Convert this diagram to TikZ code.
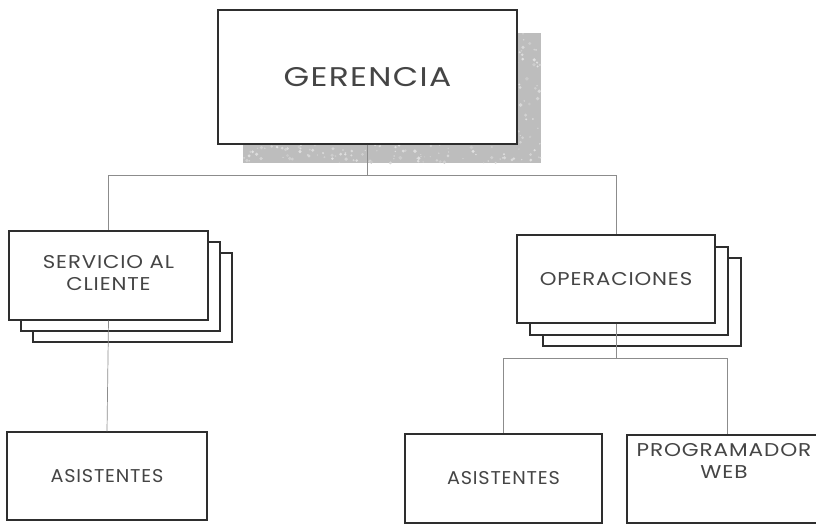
\documentclass[tikz,border=0pt]{standalone}
\usepackage{fontspec}
\setmainfont{Poppins}[LetterSpace=4]
\definecolor{ink}{HTML}{2E2E2E}
\definecolor{txt}{HTML}{454545}
\definecolor{conn}{HTML}{8C8C8C}
\definecolor{shadowgray}{HTML}{BDBDBD}
\definecolor{speck}{HTML}{E2E2E2}
\newcommand{\wide}[2]{\scalebox{#1}[1]{\begin{tabular}{@{}c@{}}#2\end{tabular}}}
\newcommand{\wideone}[2]{\scalebox{#1}[1]{#2}}
\tikzset{
  box/.style={draw=ink, line width=1.2pt, fill=white, align=center, text=txt, inner sep=0pt},
  smallbox/.style={box, font=\fontsize{18.5}{22}\selectfont},
  lbl/.style={align=center, text=txt, inner sep=0pt, font=\fontsize{18.5}{22}\selectfont},
  layer/.style={draw=ink, line width=1.2pt, fill=white},
  conn/.style={draw=conn, line width=0.7pt},
}
\begin{document}
\begin{tikzpicture}[x=1pt,y=-1pt]
\clip (0,0) rectangle (816,524);
\fill[white] (0,0) rectangle (816,524);
% textured shadow of GERENCIA
\fill[shadowgray] (243,33) rectangle (541,163);
\pgfmathsetseed{7}
\foreach \i in {1,...,700}{
  \pgfmathsetmacro{\px}{243+298*rnd}
  \pgfmathsetmacro{\py}{33+130*rnd}
  \pgfmathsetmacro{\pr}{0.6+1.4*rnd}
  \pgfmathsetmacro{\pl}{30+70*rnd}
  \fill[speck!\pl!shadowgray] (\px,\py) circle[radius=\pr];
}
\node[box, minimum width=299pt, minimum height=134pt, font=\fontsize{27}{32}\selectfont] (ger) at (367.5,77) {\wideone{1.22}{GERENCIA}};
% SERVICIO AL CLIENTE stack
\node[layer, minimum width=199pt, minimum height=89pt] (serv3) at (132.5,297.5) {};
\node[layer, minimum width=199pt, minimum height=89pt] (serv2) at (120.5,286.5) {};
\node[smallbox, minimum width=199pt, minimum height=89pt] (serv) at (108.5,275.5) {\wide{1.15}{SERVICIO AL\\CLIENTE}};
% OPERACIONES stack
\node[layer, minimum width=198pt, minimum height=88pt] (oper3) at (642,302) {};
\node[layer, minimum width=198pt, minimum height=88pt] (oper2) at (629,291) {};
\node[smallbox, minimum width=198pt, minimum height=88pt] (oper) at (616,279) {\wideone{1.15}{OPERACIONES}};
% bottom row
\node[smallbox, minimum width=200pt, minimum height=88pt] (asl) at (107,476) {\wideone{1.04}{ASISTENTES}};
\node[smallbox, minimum width=197pt, minimum height=89pt] (asr) at (503.5,478.5) {\wideone{1.04}{ASISTENTES}};
\node[box, minimum width=200pt, minimum height=88pt] (prog) at (727,479) {};
\node[lbl] (progtxt) at (724,463) {\wide{1.17}{PROGRAMADOR\\WEB}};
% connectors
\draw[conn] (ger.south) -- ++(0,31) coordinate (j1);
\draw[conn] (j1) -| (serv.north);
\draw[conn] (j1) -| (oper.north);
\draw[conn] (serv.south) -- (asl.north);
\draw[conn] (oper.south) -- ++(0,35) coordinate (j2);
\draw[conn] (j2) -| (asr.north);
\draw[conn] (j2) -| (prog.north);
\end{tikzpicture}
\end{document}
